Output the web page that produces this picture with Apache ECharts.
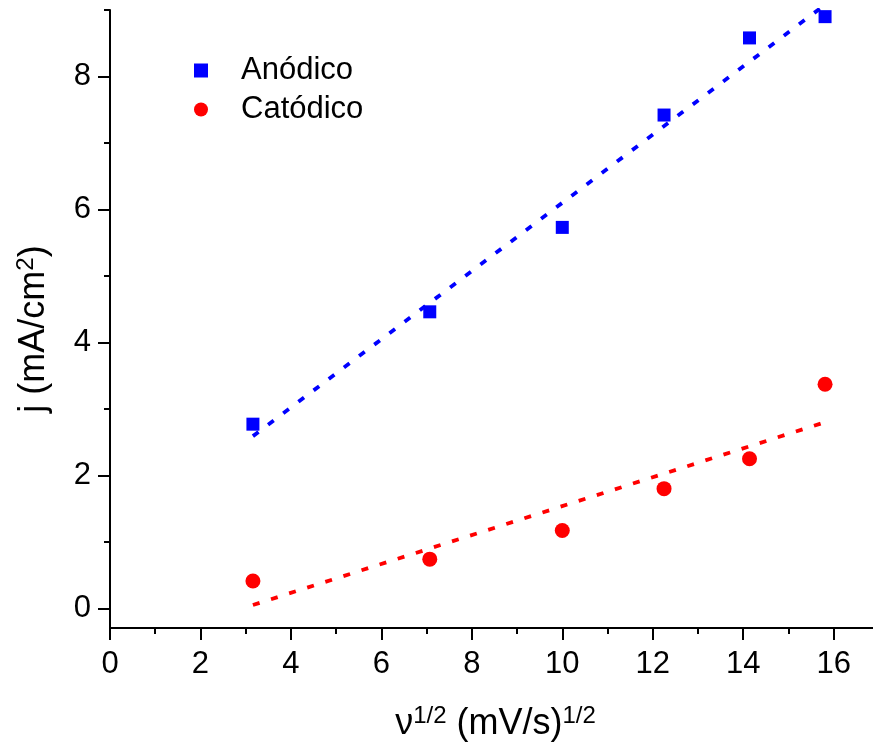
<!DOCTYPE html>
<html>
<head>
<meta charset="utf-8">
<script src="https://cdn.jsdelivr.net/npm/echarts@6/dist/echarts.min.js"></script>
<style>
  html, body { margin: 0; padding: 0; background: #fff; }
  #chart { width: 873px; height: 744px; }
</style>
</head>
<body>
<div id="chart"></div>
<script>
// ---- data ----
const xValues = [3.16, 7.07, 10.0, 12.25, 14.14, 15.81];
const anodico = [2.77, 4.46, 5.73, 7.42, 8.58, 8.90];
const catodico = [0.41, 0.74, 1.17, 1.80, 2.25, 3.37];
const anodicoFitX = [3.16, 15.81];
const anodicoFitY = [2.59, 9.08];
const catodicoFitX = [3.16, 15.81];
const catodicoFitY = [0.05, 2.80];
const xMajorTicks = [0, 2, 4, 6, 8, 10, 12, 14, 16];
const xMinorTicks = [1, 3, 5, 7, 9, 11, 13, 15];
const yMajorTicks = [0, 2, 4, 6, 8];
const yMinorTicks = [1, 3, 5, 7, 9];
const seriesNames = ['Anódico', 'Catódico'];

const FONT = '"Liberation Sans", Arial, sans-serif';
const zip = (a, b) => a.map((v, i) => [v, b[i]]);

const chart = echarts.init(document.getElementById('chart'), null, { renderer: 'canvas' });

const xRange = { min: 0, max: 16.87 };
const yRange = { min: -0.296, max: 9.0 };

const axisLine = { show: true, onZero: false, lineStyle: { color: '#000', width: 2 } };
const supStyle = { fontFamily: FONT, fontSize: 24, verticalAlign: 'top', lineHeight: 24, color: '#000' };

const option = {
  backgroundColor: '#fff',
  animation: false,
  grid: { left: 110, right: 0, top: 10, bottom: 116, containLabel: false, outerBoundsMode: 'none' },
  legend: {
    data: seriesNames,
    orient: 'vertical',
    left: 189,
    top: 50,
    itemWidth: 14,
    itemHeight: 14,
    itemGap: 8,
    textStyle: { fontFamily: FONT, fontSize: 31, color: '#000', padding: [0, 0, 0, 28] },
    selectedMode: false
  },
  xAxis: [
    {
      type: 'value', min: xRange.min, max: xRange.max,
      name: 'ν{sup|1/2} (mV/s){sup|1/2}',
      nameLocation: 'middle', nameGap: 76,
      nameTextStyle: {
        fontFamily: FONT, fontSize: 36, color: '#000', lineHeight: 40, padding: [0, 0, 0, 8],
        rich: { sup: supStyle }
      },
      axisLine: axisLine,
      axisTick: { show: true, inside: false, length: 12, lineStyle: { color: '#000', width: 2 }, customValues: xMajorTicks },
      axisLabel: { show: true, margin: 21, fontFamily: FONT, fontSize: 31, color: '#000', customValues: xMajorTicks },
      splitLine: { show: false }
    },
    {
      type: 'value', min: xRange.min, max: xRange.max, gridIndex: 0, position: 'bottom',
      axisLine: { show: false, onZero: false },
      axisTick: { show: true, inside: false, length: 6, lineStyle: { color: '#000', width: 2 }, customValues: xMinorTicks },
      axisLabel: { show: false },
      splitLine: { show: false }
    }
  ],
  yAxis: [
    {
      type: 'value', min: yRange.min, max: yRange.max,
      name: 'j (mA/cm{sup|2})',
      nameLocation: 'middle', nameGap: 56, nameRotate: 90,
      nameTextStyle: {
        fontFamily: FONT, fontSize: 36, color: '#000', lineHeight: 40, padding: [0, 20, 0, 0],
        rich: { sup: supStyle }
      },
      axisLine: axisLine,
      axisTick: { show: true, inside: false, length: 12, lineStyle: { color: '#000', width: 2 }, customValues: yMajorTicks },
      axisLabel: { show: true, margin: 19, fontFamily: FONT, fontSize: 31, color: '#000', customValues: yMajorTicks },
      splitLine: { show: false }
    },
    {
      type: 'value', min: yRange.min, max: yRange.max, gridIndex: 0, position: 'left',
      axisLine: { show: false, onZero: false },
      axisTick: { show: true, inside: false, length: 6, lineStyle: { color: '#000', width: 2 }, customValues: yMinorTicks },
      axisLabel: { show: false },
      splitLine: { show: false }
    }
  ],
  series: [
    {
      name: 'Anódico fit', type: 'line', xAxisIndex: 0, yAxisIndex: 0,
      data: zip(anodicoFitX, anodicoFitY), symbol: 'none', clip: true,
      lineStyle: { color: '#0000ff', width: 3.8, type: [7, 12] }, z: 2
    },
    {
      name: 'Catódico fit', type: 'line', xAxisIndex: 0, yAxisIndex: 0,
      data: zip(catodicoFitX, catodicoFitY), symbol: 'none', clip: true,
      lineStyle: { color: '#ff0000', width: 3.8, type: [7, 12] }, z: 2
    },
    {
      name: 'Anódico', type: 'scatter', xAxisIndex: 0, yAxisIndex: 0,
      data: zip(xValues, anodico), symbol: 'rect', symbolSize: 13,
      itemStyle: { color: '#0000ff', opacity: 1 }, z: 3
    },
    {
      name: 'Catódico', type: 'scatter', xAxisIndex: 0, yAxisIndex: 0,
      data: zip(xValues, catodico), symbol: 'circle', symbolSize: 15,
      itemStyle: { color: '#ff0000', opacity: 1 }, z: 3
    }
  ]
};

chart.setOption(option);
</script>
</body>
</html>
